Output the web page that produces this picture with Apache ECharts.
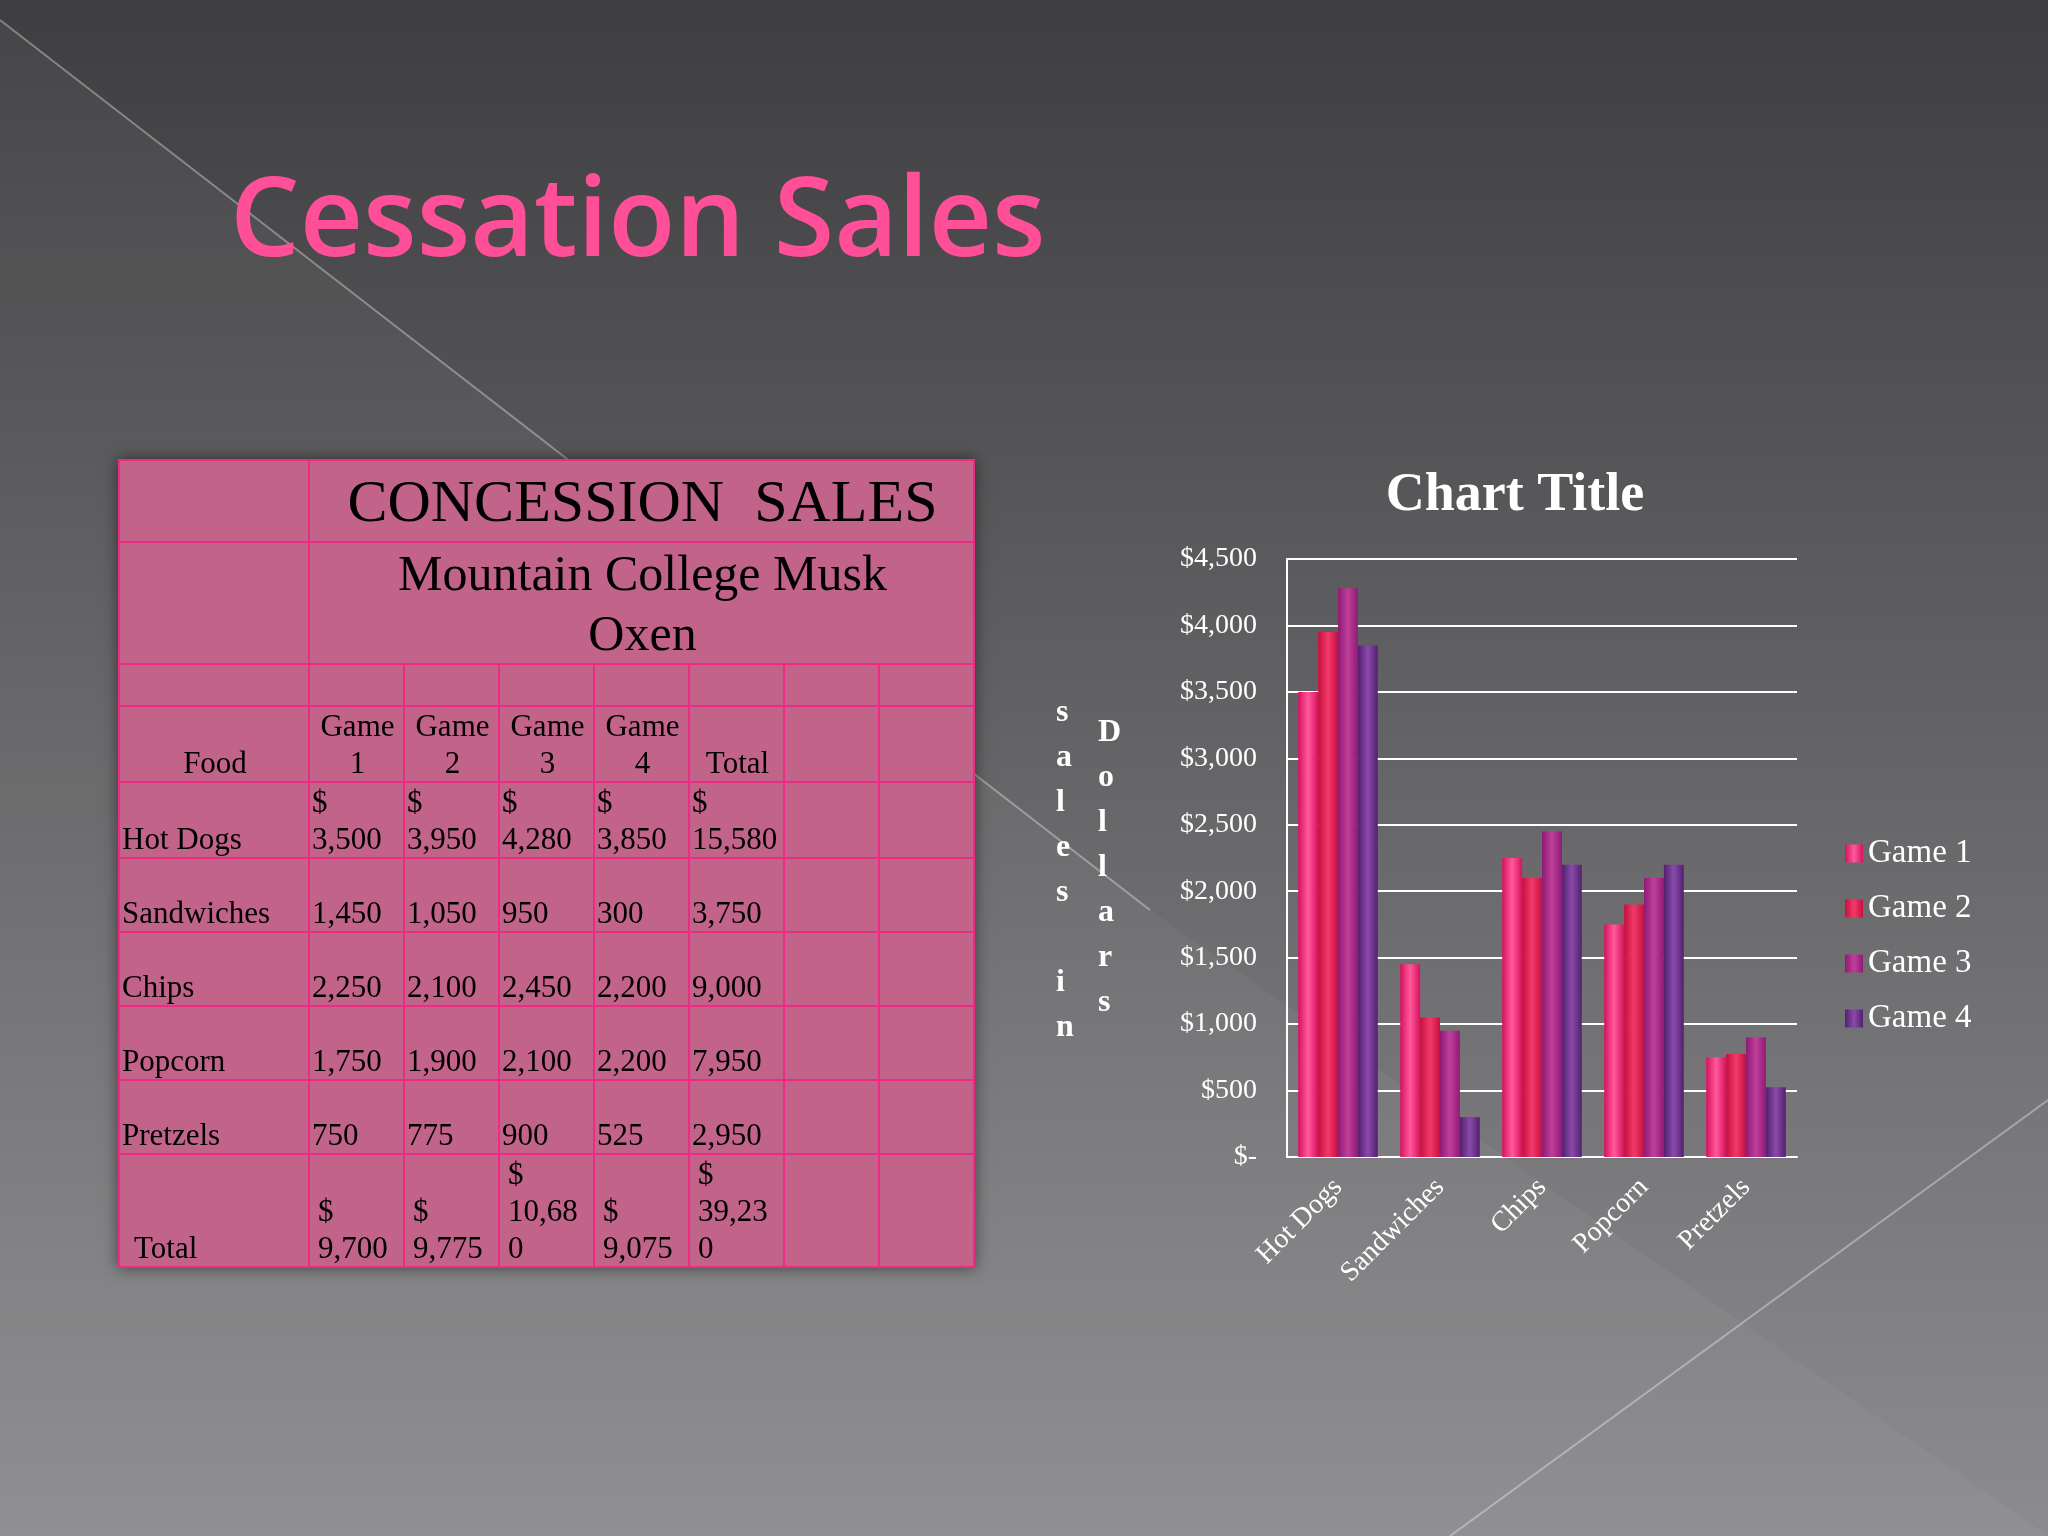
<!DOCTYPE html>
<html>
<head>
<meta charset="utf-8">
<script src="https://cdn.jsdelivr.net/npm/echarts@6/dist/echarts.min.js"></script>
<style>
    html, body { margin: 0; padding: 0; }
    body { width: 2048px; height: 1536px; position: relative; overflow: hidden; font-family: "Liberation Serif", serif; }
    #main { position: absolute; left: 0; top: 0; width: 2048px; height: 1536px; }
    #tbl {
        position: absolute; left: 118px; top: 459px; border-collapse: collapse;
        background: #c2648a; box-shadow: 0 0 14px rgba(0,0,0,0.5); table-layout: fixed;
    }
    #tbl td {
        border: 2px solid #ee2a82; color: #000; font-size: 31px; line-height: 37px;
        vertical-align: bottom; padding: 0 0 0 2px; word-break: break-all; overflow: hidden;
    }
    #tbl td.c { text-align: center; }
</style>
</head>
<body>
<div id="main"></div>
<table id="tbl"></table>
<script>
    var foods = ['Hot Dogs', 'Sandwiches', 'Chips', 'Popcorn', 'Pretzels'];
    var games = ['Game 1', 'Game 2', 'Game 3', 'Game 4'];
    var game1 = [3500, 1450, 2250, 1750, 750];
    var game2 = [3950, 1050, 2100, 1900, 775];
    var game3 = [4280, 950, 2450, 2100, 900];
    var game4 = [3850, 300, 2200, 2200, 525];
    var foodTotals = [15580, 3750, 9000, 7950, 2950];
    var gameTotals = [9700, 9775, 10680, 9075, 39230];
    var yTicks = ['$-', '$500', '$1,000', '$1,500', '$2,000', '$2,500', '$3,000', '$3,500', '$4,000', '$4,500'];

    // table
    function fmt(v) { return v.toLocaleString('en-US'); }
    var colW = [190, 95, 95, 95, 95, 95, 95, 95];
    var rowH = [82, 122, 42, 74, 74, 74, 74, 74, 74, 104];
    var h = '<colgroup>';
    colW.forEach(function (w) { h += '<col style="width:' + w + 'px">'; });
    h += '</colgroup>';
    var empty3 = '<td></td><td></td>';
    h += '<tr style="height:' + rowH[0] + 'px"><td></td><td colspan="7" class="c" style="font-size:60px;line-height:70px;vertical-align:middle">CONCESSION&nbsp; SALES</td></tr>';
    h += '<tr style="height:' + rowH[1] + 'px"><td></td><td colspan="7" class="c" style="font-size:50px;line-height:60px;vertical-align:middle;word-break:normal">Mountain College Musk<br>Oxen</td></tr>';
    h += '<tr style="height:' + rowH[2] + 'px"><td></td><td></td><td></td><td></td><td></td><td></td><td></td><td></td></tr>';
    h += '<tr style="height:' + rowH[3] + 'px"><td class="c">Food</td>';
    games.forEach(function (g) { h += '<td class="c" style="word-break:normal">' + g.replace(' ', '<br>') + '</td>'; });
    h += '<td class="c">Total</td>' + empty3 + '</tr>';
    var vals = [game1, game2, game3, game4];
    foods.forEach(function (f, i) {
        var d = i === 0 ? '$<br>' : '';
        h += '<tr style="height:' + rowH[4 + i] + 'px"><td>' + f + '</td>';
        vals.forEach(function (a) { h += '<td>' + d + fmt(a[i]) + '</td>'; });
        h += '<td>' + d + fmt(foodTotals[i]) + '</td>' + empty3 + '</tr>';
    });
    h += '<tr style="height:' + rowH[9] + 'px"><td style="padding-left:14px">Total</td>';
    gameTotals.forEach(function (v) { h += '<td style="padding-left:8px">$<br>' + fmt(v) + '</td>'; });
    h += empty3 + '</tr>';
    document.getElementById('tbl').innerHTML = h;

    // chart
    var colors = [['#ff5a9a', '#d81060'], ['#f03a6a', '#c8103e'], ['#c0409a', '#8e1a74'], ['#8a4aaa', '#52206e']];
    function grad(c) {
        return new echarts.graphic.LinearGradient(0, 0, 1, 0, [
            {offset: 0, color: c[1]}, {offset: 0.5, color: c[0]}, {offset: 1, color: c[1]}
        ]);
    }
    var myChart = echarts.init(document.getElementById('main'));
    var option = {
        animation: false,
        backgroundColor: new echarts.graphic.LinearGradient(0, 0, 0, 1, [
            {offset: 0, color: '#3e3e40'}, {offset: 1, color: '#8c8b8e'}
        ]),
        graphic: [
            {type: 'line', shape: {x1: 0, y1: 20, x2: 1150, y2: 910}, style: {stroke: 'rgba(255,255,255,0.35)', lineWidth: 2}, silent: true},
            {type: 'line', shape: {x1: 1450, y1: 1536, x2: 2048, y2: 1100}, style: {stroke: 'rgba(255,255,255,0.35)', lineWidth: 2}, silent: true},
            {type: 'polygon', shape: {points: [[0, 20], [1150, 910], [2048, 1536], [0, 1536]]}, style: {fill: 'rgba(255,255,255,0.04)'}, silent: true},
            {type: 'text', left: 230, top: 170, style: {text: 'Cessation Sales', fill: '#ff4f98', font: '600 110px "Open Sans", sans-serif', shadowColor: 'rgba(255,80,150,0.6)', shadowBlur: 10}},
            {type: 'text', left: 1056, top: 690, style: {text: 's\na\nl\ne\ns\n\ni\nn', fill: '#fff', font: 'bold 32px "Liberation Serif"', lineHeight: 45, align: 'center'}},
            {type: 'text', left: 1098, top: 710, style: {text: 'D\no\nl\nl\na\nr\ns', fill: '#fff', font: 'bold 32px "Liberation Serif"', lineHeight: 45, align: 'center'}}
        ],
        title: {
            text: 'Chart Title', left: 1510, top: 464, textAlign: 'center',
            textStyle: {color: '#fff', fontSize: 54, fontWeight: 'bold', fontFamily: 'Liberation Serif'}
        },
        legend: {
            data: games, orient: 'vertical', left: 1840, top: 832, itemGap: 22,
            itemWidth: 18, itemHeight: 18, icon: 'rect',
            textStyle: {color: '#fff', fontSize: 33, fontFamily: 'Liberation Serif'}
        },
        grid: {left: 1287, top: 559, width: 510, height: 598},
        xAxis: {
            type: 'category', data: foods,
            axisLine: {lineStyle: {color: '#fff', width: 2}}, axisTick: {show: false},
            axisLabel: {rotate: 45, color: '#fff', fontSize: 28, fontFamily: 'Liberation Serif', margin: 26}
        },
        yAxis: {
            type: 'value', min: 0, max: 4500, interval: 500,
            axisLine: {show: true, lineStyle: {color: '#fff', width: 2}},
            splitLine: {lineStyle: {color: '#fff', width: 2}},
            axisLabel: {color: '#fff', fontSize: 28, fontFamily: 'Liberation Serif', margin: 30,
                formatter: function (v) { return yTicks[v / 500]; }}
        },
        series: vals.map(function (a, i) {
            return {
                name: games[i], type: 'bar', data: a, barGap: '0%', barCategoryGap: '22%',
                itemStyle: {color: grad(colors[i])}
            };
        })
    };
    myChart.setOption(option);
</script>
</body>
</html>
